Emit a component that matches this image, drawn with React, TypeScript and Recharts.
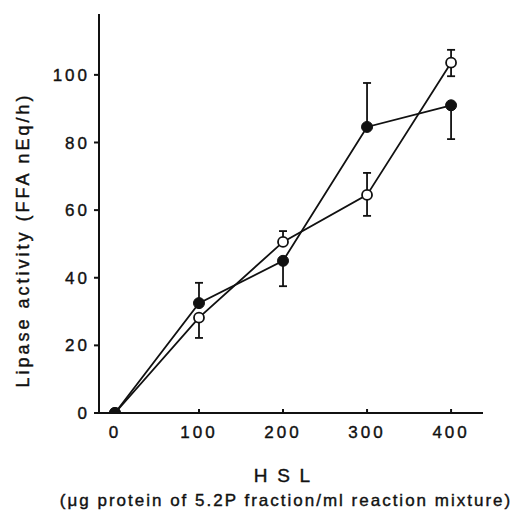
import { LineChart, Line, XAxis, YAxis, ErrorBar, Label } from 'recharts'

// HSL dose (µg protein / ml)
const doses = [0, 100, 200, 300, 400]
// filled circles
const filledActivity = [0, 32.5, 45, 84.6, 91]
const filledErr: (number[] | null)[] = [null, [0, 6], [7.5, 0], [0, 13], [10, 0]]
// open circles
const openActivity = [0, 28.2, 50.6, 64.5, 103.6]
const openErr: (number[] | null)[] = [null, [6, 0], [0, 3.2], [6.2, 6.5], [4, 3.8]]

const xTicks = [0, 100, 200, 300, 400]
const yTicks = [0, 20, 40, 60, 80, 100]

const rows = doses.map((d, i) => ({
  dose: d,
  filled: filledActivity[i],
  filledErr: filledErr[i],
  open: openActivity[i],
  openErr: openErr[i],
}))

const font = '"Liberation Sans", Arial, sans-serif'
const ink = '#111'
const tickStyle = { fill: ink, stroke: ink, strokeWidth: 0.4, fontSize: 17, fontFamily: font, letterSpacing: 3 }

const FilledDot = (p: any) => <circle cx={p.cx} cy={p.cy} r={5.5} fill={ink} stroke={ink} strokeWidth={1} />
const OpenDot = (p: any) => <circle cx={p.cx} cy={p.cy} r={5} fill="#fff" stroke={ink} strokeWidth={1.8} />

export default function App() {
  return (
    <div style={{ position: 'absolute', left: 0, top: 0, background: '#fff', fontFamily: font }}>
      <LineChart width={531} height={510} data={rows} margin={{ top: 14, right: 48, bottom: 0, left: 0 }}>
        <XAxis
          dataKey="dose"
          type="number"
          domain={[-19, 438]}
          ticks={xTicks}
          allowDataOverflow
          height={97}
          stroke={ink}
          strokeWidth={2}
          tickSize={-4}
          tickMargin={17}
          tick={tickStyle}
        >
          <Label
            content={() => (
              <g fontFamily={font} fill={ink} stroke={ink} strokeWidth={0.4}>
                <text x={283} y={482} textAnchor="middle" fontSize={19} letterSpacing={2.2}>H S L</text>
                <text x={286} y={506} textAnchor="middle" fontSize={17} letterSpacing={2}>
                  (μg protein of 5.2P fraction/ml reaction mixture)
                </text>
              </g>
            )}
          />
        </XAxis>
        <YAxis
          type="number"
          domain={[0, 118]}
          ticks={yTicks}
          allowDataOverflow
          width={99}
          stroke={ink}
          strokeWidth={2}
          tickSize={5}
          tickMargin={4}
          tick={tickStyle}
        >
          <Label
            content={() => (
              <text
                x={29}
                y={240}
                transform="rotate(-90 29 240)"
                textAnchor="middle"
                fontFamily={font}
                fontSize={18}
                letterSpacing={3}
                fill={ink}
                stroke={ink}
                strokeWidth={0.4}
              >
                Lipase activity (FFA nEq/h)
              </text>
            )}
          />
        </YAxis>
        <Line
          type="linear"
          dataKey="open"
          stroke={ink}
          strokeWidth={1.8}
          dot={<OpenDot />}
          isAnimationActive={false}
        >
          <ErrorBar dataKey="openErr" width={4} stroke={ink} strokeWidth={1.8} direction="y" />
        </Line>
        <Line
          type="linear"
          dataKey="filled"
          stroke={ink}
          strokeWidth={1.8}
          dot={<FilledDot />}
          isAnimationActive={false}
        >
          <ErrorBar dataKey="filledErr" width={4} stroke={ink} strokeWidth={1.8} direction="y" />
        </Line>
      </LineChart>
    </div>
  )
}
